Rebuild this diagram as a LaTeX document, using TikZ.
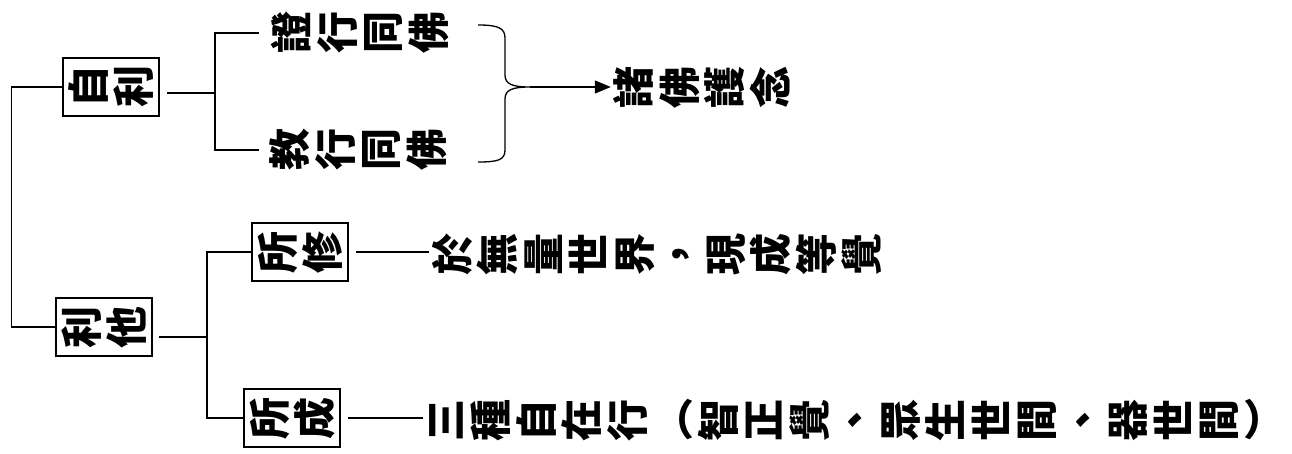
\documentclass[tikz,border=0pt]{standalone}
\usepackage{fontspec}
\newfontfamily\cjk{Noto Sans CJK TC}
\usetikzlibrary{arrows.meta}

\makeatletter
\newcommand\cjkstrut{\vrule width0pt height.88em depth.12em}
\def\sc@lp{（}
\def\sc@rp{）}
% every character turned a quarter turn to the left, read left to right;
% brackets stay as they are
\newcommand\sidechars[1]{\@tfor\sc@ch:=#1\do{\makebox[45.5pt]{%
  \ifx\sc@ch\sc@lp\cjkstrut\sc@ch\else
  \ifx\sc@ch\sc@rp\cjkstrut\sc@ch\else
  \rotatebox[origin=c]{90}{\cjkstrut\sc@ch}\fi\fi}}}
\makeatother

\tikzset{
  sidetext/.style={font=\cjk\bfseries\fontsize{42}{42}\selectfont, inner sep=0pt},
  sidebox/.style={sidetext, draw, line width=1.6pt, inner xsep=2.5pt, inner ysep=8pt},
  conn/.style={line width=1.3pt},
}

\begin{document}
\begin{tikzpicture}[x=1pt,y=-1pt]
        \useasboundingbox (0,0) rectangle (1292,454);

        % Boxes
        \node[sidebox] (zili) at (111,87) {\sidechars{自利}};
        \node[sidebox] (lita) at (104,327) {\sidechars{利他}};
        \node[sidebox] (suoxiu) at (300,252) {\sidechars{所修}};
        \node[sidebox] (suocheng) at (292,418) {\sidechars{所成}};

        % Texts
        \node[sidetext] (zheng) at (360,33) {\sidechars{證行同佛}};
        \node[sidetext] (jiao) at (358,150) {\sidechars{教行同佛}};
        \node[sidetext] (zhufo) at (702,88) {\sidechars{諸佛護念}};
        \node[sidetext] (wuliang) at (657,254) {\sidechars{於無量世界，現成等覺}};
        \node[sidetext] (sanzhong) at (855,420) {\sidechars{三種自在行（智正覺、眾生世間、器世間）}};

        % Left trunk
        \draw[conn] (zili.west) -- ++(-51,0) |- (lita.west);

        % Self benefit
        \coordinate (zfork) at (215,93);
        \draw[conn,shorten <=7pt] (zili.east |- zfork) -- (zfork);
        \draw[conn] ([xshift=-10pt]zheng.west) -| (zfork) |- ([xshift=-8pt]jiao.west);

        % Brace and arrow
        \coordinate (tip) at (530,87);
        \draw[conn] (478,25) .. controls (498,25) and (505,28) .. (505,38) -- (505,75)
            .. controls (505,84) and (512,87) .. (tip)
            .. controls (512,87) and (505,90) .. (505,99) -- (505,150)
            .. controls (505,160) and (498,162) .. (478,162);
        \draw[conn,-{Triangle[length=16pt,width=13pt]}] (tip) -- (tip -| zhufo.west);

        % Benefit of others
        \coordinate (lfork) at (207,337);
        \draw[conn,shorten <=6pt] (lita.east |- lfork) -- (lfork);
        \draw[conn] (suoxiu.west) -| (lfork) |- (suocheng.west);
        \draw[conn,shorten <=7pt] (suoxiu.east) -- (suoxiu.east -| wuliang.west);
        \draw[conn,shorten <=7pt] (suocheng.east) -- (suocheng.east -| sanzhong.west);
\end{tikzpicture}
\end{document}
